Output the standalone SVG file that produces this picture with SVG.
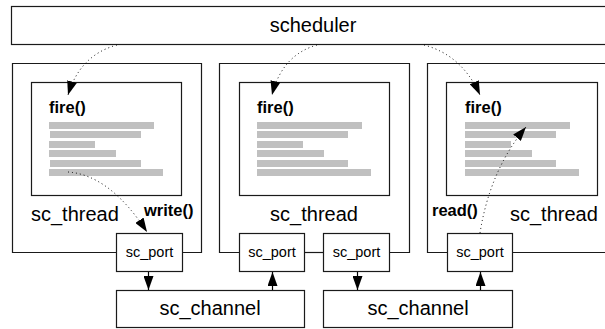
<svg xmlns="http://www.w3.org/2000/svg" width="605" height="329" viewBox="0 0 605 329">
  <defs>
    <marker id="head" viewBox="0 0 14 10" refX="14" refY="5" markerWidth="14" markerHeight="10" markerUnits="userSpaceOnUse" orient="auto">
      <path d="M0,0 L14,5 L0,10 Z" fill="#000"/>
    </marker>
    <style>
      .box { fill: #fff; stroke: #1a1a1a; stroke-width: 1.2; }
      .bar { fill: #c0c0c0; }
      .lbl { font-family: "Liberation Sans", Arial, sans-serif; font-size: 20px; fill: #000; }
      .port { font-family: "Liberation Sans", Arial, sans-serif; font-size: 14.5px; fill: #000; text-anchor: middle; }
      .fn { font-family: "Liberation Sans", Arial, sans-serif; font-size: 16.5px; font-weight: bold; fill: #000; }
      .wire { fill: none; stroke: #1a1a1a; stroke-width: 1.2; }
      .dot { fill: none; stroke: #000; stroke-width: 1; stroke-dasharray: 1 3; }
      .solid { fill: none; stroke: #000; stroke-width: 1.2; }
    </style>
  </defs>

  <!-- scheduler -->
  <g id="scheduler">
    <rect class="box" x="11.5" y="6.5" width="600" height="38"/>
    <text class="lbl" x="313" y="32" text-anchor="middle">scheduler</text>
  </g>

  <!-- thread 1 -->
  <g id="thread1">
    <path class="wire" d="M116,252.5 H12.5 V63.5 H201.5 V252.5 H182"/>
    <rect class="box" x="31.5" y="82.5" width="150" height="113"/>
    <text class="fn" x="49" y="113">fire()</text>
    <rect class="bar" x="49" y="122" width="105" height="7"/>
    <rect class="bar" x="50" y="131" width="91" height="7"/>
    <rect class="bar" x="49" y="141" width="46" height="7"/>
    <rect class="bar" x="49" y="150" width="67" height="7"/>
    <rect class="bar" x="50" y="160" width="91" height="7"/>
    <rect class="bar" x="49" y="169" width="114" height="7"/>
    <text class="lbl" x="31" y="221">sc_thread</text>
    <text class="fn" x="144" y="216">write()</text>
  </g>

  <!-- thread 2 -->
  <g id="thread2">
    <path class="wire" d="M239,252.5 H219.5 V63.5 H409.5 V252.5 H390"/>
    <path class="wire" d="M304,252.5 H323"/>
    <rect class="box" x="239.5" y="82.5" width="150" height="113"/>
    <text class="fn" x="257" y="113">fire()</text>
    <rect class="bar" x="257" y="122" width="105" height="7"/>
    <rect class="bar" x="257" y="131" width="91" height="7"/>
    <rect class="bar" x="257" y="141" width="46" height="7"/>
    <rect class="bar" x="257" y="150" width="67" height="7"/>
    <rect class="bar" x="257" y="160" width="91" height="7"/>
    <rect class="bar" x="257" y="169" width="114" height="7"/>
    <text class="lbl" x="314" y="221" text-anchor="middle">sc_thread</text>
  </g>

  <!-- thread 3 -->
  <g id="thread3">
    <path class="wire" d="M447,252.5 H427.5 V63.5 H612"/>
    <path class="wire" d="M512,252.5 H612"/>
    <rect class="box" x="446.5" y="82.5" width="151" height="113"/>
    <text class="fn" x="465" y="113">fire()</text>
    <rect class="bar" x="465" y="122" width="105" height="7"/>
    <rect class="bar" x="465" y="131" width="91" height="7"/>
    <rect class="bar" x="465" y="141" width="46" height="7"/>
    <rect class="bar" x="465" y="150" width="67" height="7"/>
    <rect class="bar" x="465" y="160" width="91" height="7"/>
    <rect class="bar" x="465" y="169" width="114" height="7"/>
    <text class="fn" x="432" y="216">read()</text>
    <text class="lbl" x="510" y="221">sc_thread</text>
  </g>

  <!-- ports -->
  <g id="port1">
    <rect class="box" x="116.5" y="233.5" width="66" height="38"/>
    <text class="port" x="149.5" y="257">sc_port</text>
  </g>
  <g id="port2">
    <rect class="box" x="239.5" y="233.5" width="65" height="38"/>
    <text class="port" x="272" y="257">sc_port</text>
  </g>
  <g id="port3">
    <rect class="box" x="323.5" y="233.5" width="66" height="38"/>
    <text class="port" x="356.5" y="257">sc_port</text>
  </g>
  <g id="port4">
    <rect class="box" x="447.5" y="233.5" width="65" height="38"/>
    <text class="port" x="480" y="257">sc_port</text>
  </g>

  <!-- channels -->
  <g id="channel1">
    <rect class="box" x="116.5" y="290.5" width="188" height="37"/>
    <text class="lbl" x="210" y="315" text-anchor="middle">sc_channel</text>
  </g>
  <g id="channel2">
    <rect class="box" x="323.5" y="290.5" width="189" height="37"/>
    <text class="lbl" x="418" y="315" text-anchor="middle">sc_channel</text>
  </g>

  <!-- connectors -->
  <g id="connectors">
    <path class="dot" d="M117,45 Q80,55 68,95" marker-end="url(#head)"/>
    <path class="dot" d="M317,45 Q282,55 272,95" marker-end="url(#head)"/>
    <path class="dot" d="M424,45 Q462,55 480,95" marker-end="url(#head)"/>
    <path class="dot" d="M68,172 Q110,175 147,232" marker-end="url(#head)"/>
    <path class="dot" d="M480,233 Q490,170 526,127" marker-end="url(#head)"/>
    <path class="solid" d="M148.5,272 V290" marker-end="url(#head)"/>
    <path class="solid" d="M272.5,290 V272" marker-end="url(#head)"/>
    <path class="solid" d="M357.5,272 V290" marker-end="url(#head)"/>
    <path class="solid" d="M480.5,290 V272" marker-end="url(#head)"/>
  </g>
</svg>
